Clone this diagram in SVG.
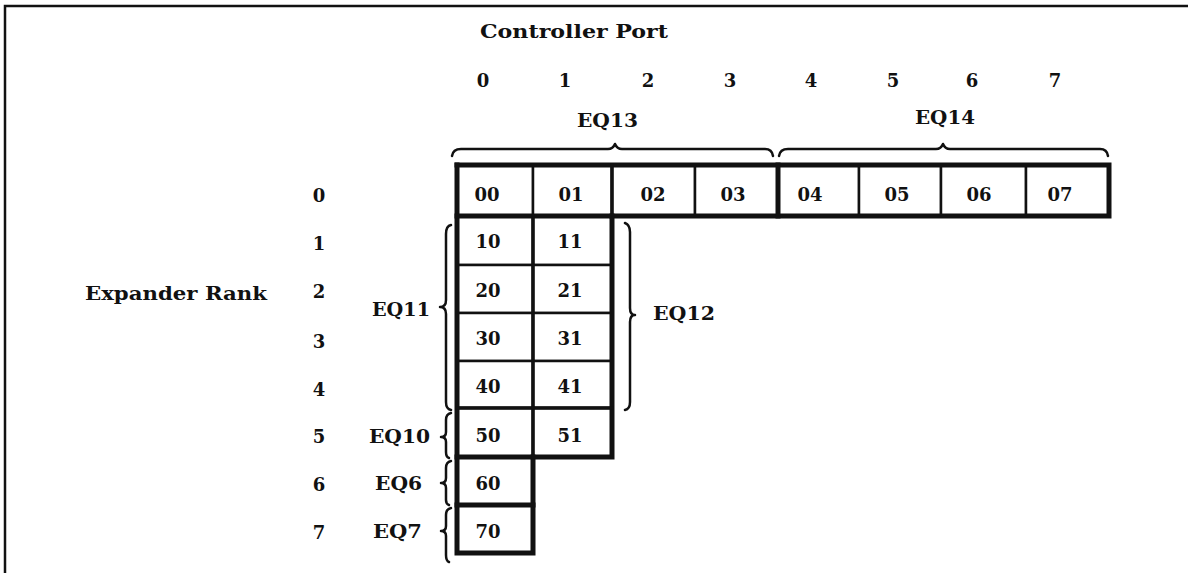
<svg xmlns="http://www.w3.org/2000/svg" width="1188" height="573" viewBox="0 0 1188 573">
<style>
  text { font-family: "DejaVu Serif", "Liberation Serif", serif; font-weight: bold; fill: #111; }
  .lbl { font-size: 18px; }
  .cell text { font-size: 18px; text-anchor: middle; }
  .cell rect { fill: #fff; stroke: #111; stroke-width: 2.5; }
  .thick { stroke: #111; stroke-width: 5; fill: none; stroke-linecap: square; }
  .mid { stroke: #111; stroke-width: 3.5; fill: none; stroke-linecap: square; }
  .brace { stroke: #111; stroke-width: 2.5; fill: none; stroke-linejoin: round; stroke-linecap: round; }
  .frame { stroke: #111; stroke-width: 2.5; fill: none; }
</style>
<rect x="0" y="0" width="1188" height="573" fill="#fff"/>
<path class="frame" d="M5,573 L5,6 L1188,6"/>

<!-- headers -->
<g id="header">
  <text class="lbl" x="480" y="38" font-size="17" textLength="188" lengthAdjust="spacingAndGlyphs">Controller Port</text>
  <g text-anchor="middle" class="lbl">
    <text x="483" y="87">0</text><text x="565" y="87">1</text><text x="648" y="87">2</text><text x="730" y="87">3</text>
    <text x="811" y="87">4</text><text x="893" y="87">5</text><text x="972" y="87">6</text><text x="1055" y="87">7</text>
  </g>
  <text class="lbl" x="85" y="300" textLength="182" lengthAdjust="spacingAndGlyphs">Expander Rank</text>
  <g text-anchor="middle" class="lbl">
    <text x="319" y="202">0</text><text x="319" y="250">1</text><text x="319" y="298">2</text><text x="319" y="348">3</text>
    <text x="319" y="396">4</text><text x="319" y="443">5</text><text x="319" y="491">6</text><text x="319" y="539">7</text>
  </g>
</g>

<!-- top row cells -->
<g id="c00" class="cell"><rect x="457" y="165" width="76" height="51"/><text x="487" y="201">00</text></g>
<g id="c01" class="cell"><rect x="533" y="165" width="79" height="51"/><text x="571" y="201">01</text></g>
<g id="c02" class="cell"><rect x="612" y="165" width="83" height="51"/><text x="653" y="201">02</text></g>
<g id="c03" class="cell"><rect x="695" y="165" width="83" height="51"/><text x="733" y="201">03</text></g>
<g id="c04" class="cell"><rect x="778" y="165" width="81" height="51"/><text x="810" y="201">04</text></g>
<g id="c05" class="cell"><rect x="859" y="165" width="82" height="51"/><text x="897" y="201">05</text></g>
<g id="c06" class="cell"><rect x="941" y="165" width="85" height="51"/><text x="979" y="201">06</text></g>
<g id="c07" class="cell"><rect x="1026" y="165" width="83" height="51"/><text x="1060" y="201">07</text></g>

<!-- column cells -->
<g id="c10" class="cell"><rect x="457" y="216" width="76" height="49"/><text x="488" y="248">10</text></g>
<g id="c11" class="cell"><rect x="533" y="216" width="79" height="49"/><text x="570" y="248">11</text></g>
<g id="c20" class="cell"><rect x="457" y="265" width="76" height="48"/><text x="488" y="297">20</text></g>
<g id="c21" class="cell"><rect x="533" y="265" width="79" height="48"/><text x="570" y="297">21</text></g>
<g id="c30" class="cell"><rect x="457" y="313" width="76" height="48"/><text x="488" y="345">30</text></g>
<g id="c31" class="cell"><rect x="533" y="313" width="79" height="48"/><text x="570" y="345">31</text></g>
<g id="c40" class="cell"><rect x="457" y="361" width="76" height="47"/><text x="488" y="393">40</text></g>
<g id="c41" class="cell"><rect x="533" y="361" width="79" height="47"/><text x="570" y="393">41</text></g>
<g id="c50" class="cell"><rect x="457" y="408" width="76" height="49"/><text x="488" y="442">50</text></g>
<g id="c51" class="cell"><rect x="533" y="408" width="79" height="49"/><text x="570" y="442">51</text></g>
<g id="c60" class="cell"><rect x="457" y="457" width="76" height="48"/><text x="488" y="490">60</text></g>
<g id="c70" class="cell"><rect x="457" y="505" width="76" height="48"/><text x="488" y="538">70</text></g>

<!-- heavy outlines -->
<g id="outlines">
  <path class="thick" d="M457,165 L1109,165 L1109,216 L612,216"/>
  <path class="thick" d="M778,165 L778,216"/>
  <path class="mid" d="M612,165 L612,216"/>
  <path class="thick" d="M457,165 L457,553 L533,553 L533,457"/>
  <path class="thick" d="M457,216 L612,216 L612,457 L457,457"/>
  <path class="mid" d="M533,216 L533,457"/>
  <path class="mid" d="M457,408 L612,408"/>
  <path class="thick" d="M457,505 L533,505"/>
</g>

<!-- braces and group labels -->
<g id="connectors">
  <path class="brace" d="M452,156 Q453,149 461,149 L608,149 Q613,149 615,144 Q617,149 622,149 L765,149 Q772,149 773,156"/>
  <path class="brace" d="M779,156 Q780,149 788,149 L936,149 Q941,149 943,144 Q945,149 950,149 L1100,149 Q1107,149 1108,156"/>
  <path class="brace" d="M451,225 Q446,226 446,234 L446,300 Q446,307 440,307 Q446,307 446,314 L446,402 Q446,409 451,410"/>
  <path class="brace" d="M451,413 Q446,414 446,420 L446,432 Q446,437 441,437 Q446,437 446,442 L446,452 Q446,457 449,458"/>
  <path class="brace" d="M451,461 Q446,462 446,468 L446,478 Q446,483 441,483 Q446,483 446,488 L446,500 Q446,504 449,505"/>
  <path class="brace" d="M451,508 Q446,509 446,515 L446,526 Q446,531 441,531 Q446,531 446,536 L446,555 Q446,561 449,562"/>
  <path class="brace" d="M625,223 Q630,225 630,232 L630,308 Q630,315 635,315 Q630,315 630,322 L630,402 Q630,409 625,410"/>
</g>
<g id="eqlabels" class="lbl">
  <text x="577" y="127" textLength="61" lengthAdjust="spacingAndGlyphs">EQ13</text>
  <text x="915" y="124" textLength="60" lengthAdjust="spacingAndGlyphs">EQ14</text>
  <text x="372" y="316" textLength="58" lengthAdjust="spacingAndGlyphs">EQ11</text>
  <text x="653" y="320" textLength="62" lengthAdjust="spacingAndGlyphs">EQ12</text>
  <text x="369" y="443" textLength="61" lengthAdjust="spacingAndGlyphs">EQ10</text>
  <text x="375" y="490" textLength="47" lengthAdjust="spacingAndGlyphs">EQ6</text>
  <text x="373" y="538" textLength="49" lengthAdjust="spacingAndGlyphs">EQ7</text>
</g>
</svg>
